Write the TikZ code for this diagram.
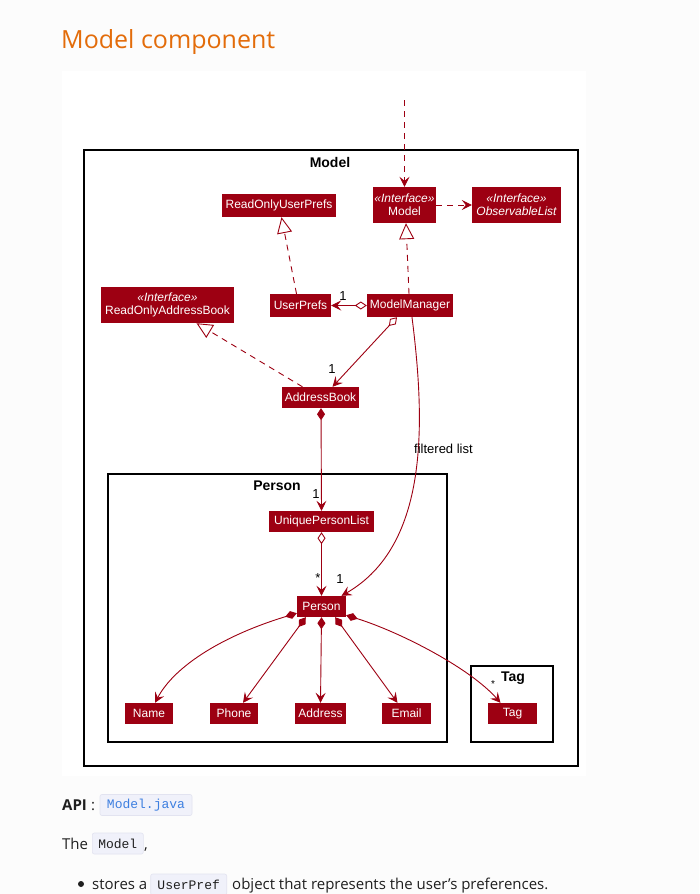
\documentclass[tikz,border=0pt]{standalone}
\usepackage{fontspec}
\setmainfont{Open Sans}
\newfontfamily\umlf{Liberation Sans}
\newfontfamily\codef{Liberation Mono}
\usetikzlibrary{arrows.meta,calc}
\definecolor{mred}{HTML}{9D0012}
\definecolor{titleor}{HTML}{E36C0A}
\definecolor{codebg}{HTML}{F0F1FA}
\definecolor{codeline}{HTML}{E2E3F0}
\definecolor{codeblue}{HTML}{3D7FE0}
\definecolor{pagebg}{HTML}{FCFCFC}
\definecolor{bodytext}{HTML}{1F1F1F}
\begin{document}
\begin{tikzpicture}[x=1pt,y=-1pt,
  cls/.style={rectangle, fill=mred, text=white, inner sep=0pt, minimum height=21pt,
    font=\umlf\fontsize{12}{14}\selectfont, align=center},
  pkg/.style={draw=black, line width=1.4pt, fill=none},
  pkglabel/.style={font=\umlf\bfseries\fontsize{14}{16}\selectfont, text=black, inner sep=0pt},
  mult/.style={font=\umlf\fontsize{13}{15}\selectfont, text=black, inner sep=0pt},
  conn/.style={draw=mred, line width=0.9pt},
  dashedconn/.style={conn, dash pattern=on 6pt off 5pt},
  arr/.style={arrows={-Stealth[length=10pt,width=10pt,inset=4pt]}},
  realize/.style={arrows={-Triangle[open,length=16pt,width=15pt,fill=white]}},
  agg/.style={arrows={Diamond[open,length=12pt,width=8pt,fill=white]-Stealth[length=10pt,width=10pt,inset=4pt]}},
  comp/.style={arrows={Diamond[length=12pt,width=8pt]-Stealth[length=10pt,width=10pt,inset=4pt]}},
  stereo/.style={},
  codebox/.style={fill=codebg, draw=codeline, line width=0.6pt, rounded corners=2pt, inner sep=0pt,
    minimum height=21pt, font=\codef\fontsize{13}{15}\selectfont},
  bodyt/.style={font=\fontsize{15}{18}\selectfont, text=bodytext, inner sep=0pt}
]
% backgrounds
\fill[pagebg] (0,0) rectangle (699,894);
\useasboundingbox (0,0) rectangle (699,894);
\fill[white] (62,71) rectangle (586,776);

% title
\node[anchor=base west, inner sep=0pt, font=\fontsize{25}{30}\selectfont, text=titleor] (title) at (61,48) {Model component};

% packages
\draw[pkg] (84,150) rectangle (578,766);
\node[pkglabel] (lmodel) at (330,162) {Model};
\draw[pkg] (108,474) rectangle (447,742);
\node[pkglabel] (lperson) at (277,486) {Person};
\draw[pkg] (471,666) rectangle (553,742);
\node[pkglabel] (ltag) at (513,678) {Tag};

% classes
\newcommand{\stereotxt}{{\itshape\fontsize{12}{13}\selectfont «Interface»}}
\node[cls, minimum width=114pt, minimum height=23pt] (rup) at (279,205.5) {ReadOnlyUserPrefs};
\node[cls, minimum width=63pt, minimum height=36pt] (model) at (404.5,205)
  {\stereotxt\\[-1pt]Model};
\node[cls, minimum width=89pt, minimum height=36pt] (obs) at (516.5,205)
  {\stereotxt\\[-1pt]\itshape ObservableList};
\node[cls, minimum width=133pt, minimum height=36pt] (rab) at (167.5,305)
  {\stereotxt\\[-1pt]ReadOnlyAddressBook};
\node[cls, minimum width=61pt, minimum height=23pt] (up) at (300.5,305.5) {UserPrefs};
\node[cls, minimum width=86pt, minimum height=23pt] (mm) at (410,305.5) {ModelManager};
\node[cls, minimum width=77pt] (ab) at (320.5,397.5) {AddressBook};
\node[cls, minimum width=105pt] (upl) at (321.5,521.5) {UniquePersonList};
\node[cls, minimum width=49pt] (person) at (321.5,606.5) {Person};
\node[cls, minimum width=48pt] (name) at (149,713.5) {Name};
\node[cls, minimum width=48pt] (phone) at (234,713.5) {Phone};
\node[cls, minimum width=51pt] (addr) at (320.5,713.5) {Address};
\node[cls, minimum width=49pt] (email) at (406.5,713.5) {Email};
\node[cls, minimum width=49pt] (tag) at (512.5,713.5) {Tag};

% connectors
\coordinate (ext) at (404.5,100);
\draw[dashedconn, arr] (ext) -- (model.north);
\draw[dashedconn, arr] (model.east) -- (obs.west);
\draw[dashedconn, realize] ([xshift=-4pt]up.north) -- ([xshift=2.5pt]rup.south);
\draw[dashedconn, realize] ([xshift=-1pt]mm.north) -- ([xshift=1.5pt]model.south);
\draw[conn, agg] (mm.west) -- (up.east);
\draw[conn, agg] ([xshift=-13pt]mm.south) -- ([xshift=12pt]ab.north);
\draw[dashedconn, realize] ([xshift=-18pt]ab.north) -- ([xshift=29pt]rab.south);
\draw[conn, comp] ([xshift=0.5pt]ab.south) -- (upl.north);
\draw[conn, agg] (upl.south) -- (person.north);
\draw[conn, arr] ([xshift=2pt]mm.south) .. controls (425,420) and (430,545) .. ([xshift=20pt]person.north);
\draw[conn, comp] ([yshift=4pt]person.south west) .. controls (225,635) and (175,665) .. ([xshift=6pt]name.north);
\draw[conn, comp] ([xshift=9pt]person.south west) -- ([xshift=9pt]phone.north);
\draw[conn, comp] (person.south) -- (addr.north);
\draw[conn, comp] ([xshift=-11pt]person.south east) -- ([xshift=-9pt]email.north);
\draw[conn, comp] ([yshift=2pt]person.south east) .. controls (400,632) and (470,668) .. ([xshift=-12pt]tag.north);

% multiplicities and labels
\node[mult] (m1) at (343,296) {1};
\node[mult] (m2) at (332,369) {1};
\node[mult] (m3) at (316,494) {1};
\node[mult] (m4) at (318,578) {*};
\node[mult] (m5) at (340,579) {1};
\node[mult, font=\umlf\fontsize{10}{12}\selectfont] (m6) at (493,684) {*};
\node[mult, anchor=west] (fl) at (414,449) {filtered list};

% body text
\node[bodyt, anchor=base west, font=\fontsize{15}{18}\selectfont\bfseries] (api) at (62,810) {API};
\node[bodyt, anchor=base west] (colon) at (91,810) {:};
\node[codebox, minimum width=92pt, text=codeblue] (mj) at (146,805) {Model.java};
\node[bodyt, anchor=base west] (the) at (62,849) {The};
\node[codebox, minimum width=51pt, text=bodytext] (mc) at (117.8,843.5) {Model};
\node[bodyt, anchor=base west] (comma) at (144,849) {,};
\node[circle, fill=bodytext, inner sep=0pt, minimum size=6pt] (bullet) at (81,884) {};
\node[bodyt, anchor=base west] (st) at (92,889) {stores a};
\node[codebox, minimum width=76pt, text=bodytext] (upc) at (188.7,884.5) {UserPref};
\node[bodyt, anchor=base west] (obj) at (232,889) {object that represents the user’s preferences.};
\end{tikzpicture}
\end{document}
